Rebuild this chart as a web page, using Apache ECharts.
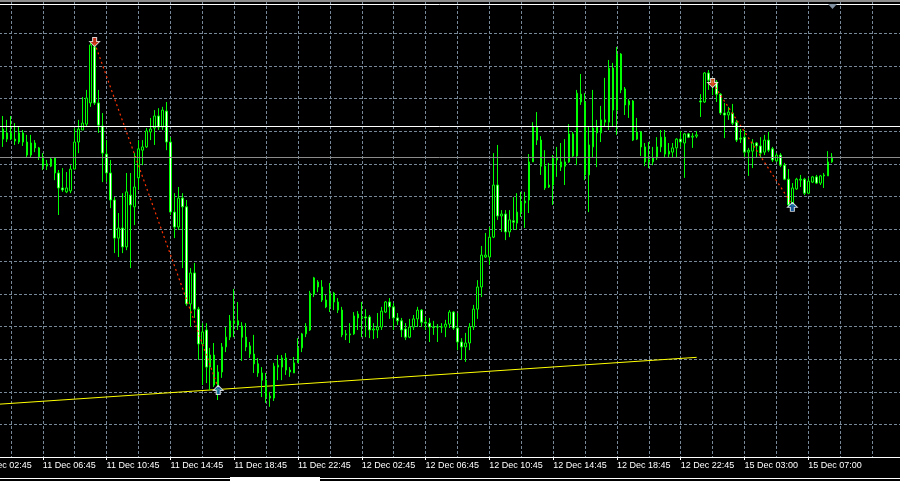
<!DOCTYPE html>
<html><head><meta charset="utf-8">
<script src="https://cdn.jsdelivr.net/npm/echarts@6/dist/echarts.min.js"></script>
<style>html,body{margin:0;padding:0;background:#000;overflow:hidden;width:900px;height:481px}#c{width:924px;height:481px;margin-left:-24px}</style>
</head><body><div id="c"></div>
<script>
// x-axis tick labels, one every 16 fifteen-minute bars
const tickLabels = ["11 Dec 02:45","11 Dec 06:45","11 Dec 10:45","11 Dec 14:45","11 Dec 18:45","11 Dec 22:45",
  "12 Dec 02:45","12 Dec 06:45","12 Dec 10:45","12 Dec 14:45","12 Dec 18:45","12 Dec 22:45",
  "15 Dec 03:00","15 Dec 07:00"];
const barsPerTick = 16;
const firstCandleSlot = 6;   // first visible candle is 6 bars after "11 Dec 02:45"
const slotCount = 232;       // bar slots across the chart window

// M15 candles (price in points, 10 points per grid step)
const opens = [
100.7,99.5,99.5,97.6,96.7,99.5,96.7,92.7,96.4,94.9,
92.1,89.3,89.3,91.8,87.2,82.6,81.4,81.7,88.4,96.7,
100.4,102.2,108.7,125.9,108.7,101.6,93.0,87.2,78.9,67.2,
70.3,64.5,80.4,76.8,85.7,94.2,95.2,99.8,101.0,104.7,
101.3,106.2,96.7,75.2,70.6,79.5,76.8,47.0,56.5,45.4,
34.7,39.0,27.6,31.3,22.1,26.1,33.8,36.8,41.1,41.8,
40.2,36.8,34.1,31.6,28.6,25.8,23.6,18.1,18.1,27.6,
27.6,30.4,26.7,25.8,28.9,33.5,37.8,39.0,50.0,53.7,
52.2,48.2,46.1,50.3,47.6,45.1,37.5,37.8,37.8,43.9,
42.7,43.0,43.0,39.0,39.0,39.9,44.5,47.6,46.1,42.7,
41.8,39.3,36.8,39.9,42.4,45.1,41.4,41.1,39.9,39.9,
39.9,39.9,40.8,44.5,39.6,35.3,33.8,35.0,39.9,45.4,
52.2,61.4,61.4,67.5,83.5,74.0,74.6,69.1,72.5,71.8,
75.2,78.0,78.9,90.6,101.3,97.3,89.3,82.9,83.5,91.2,
89.0,90.6,90.6,99.2,92.4,111.4,109.0,86.6,95.2,101.3,
99.5,102.8,102.8,119.4,106.5,123.7,113.0,108.1,109.3,97.6,
99.8,95.2,90.6,90.6,91.8,95.2,98.2,93.0,93.6,94.9,
97.6,96.4,99.2,98.2,98.5,109.3,109.0,117.9,115.7,115.1,
111.4,105.6,105.0,105.6,102.8,97.9,98.2,93.6,93.9,96.4,
95.5,93.6,97.3,94.6,90.9,92.7,89.6,85.3,77.4,82.3,
85.0,85.3,81.0,84.4,86.0,84.1,86.3,86.3,90.6];
const highs = [
104.7,103.5,104.7,102.5,101.3,100.4,98.9,98.9,97.3,95.2,
93.3,91.2,92.1,92.1,88.1,88.7,87.5,89.6,101.0,103.5,
110.5,112.7,127.1,127.1,112.7,105.6,97.3,91.2,79.8,74.9,
81.0,87.2,87.2,93.3,97.3,97.3,101.0,104.1,106.5,107.1,
107.5,109.0,98.2,81.0,82.9,81.0,78.9,58.0,59.6,46.1,
41.1,41.1,33.5,35.0,28.2,35.0,39.9,43.6,51.6,47.6,
41.4,41.1,35.3,37.5,30.4,27.6,25.8,20.0,28.9,31.3,
31.3,31.9,27.6,30.7,36.5,38.1,41.1,51.0,55.3,54.3,
54.3,49.7,53.4,50.7,48.8,46.1,39.0,41.1,44.5,44.8,
47.6,45.4,43.6,41.1,44.2,46.1,47.9,48.8,47.3,44.2,
42.7,41.1,42.4,43.6,46.1,45.4,43.0,42.7,41.8,40.8,
41.1,42.1,45.1,44.8,44.2,36.5,38.1,41.1,46.7,54.3,
64.8,68.8,70.6,93.3,95.8,75.8,75.8,75.8,79.8,81.0,
81.4,81.4,93.0,102.8,105.9,98.5,94.2,90.3,92.7,95.2,
96.4,97.6,102.2,99.8,112.7,117.6,111.7,101.3,112.7,103.5,
107.8,116.4,121.9,121.0,125.9,124.0,113.6,109.9,109.6,104.1,
100.1,96.4,96.7,95.2,98.2,100.4,100.4,96.4,96.4,97.9,
100.1,99.5,99.5,99.5,100.1,111.4,118.2,118.8,116.4,115.7,
111.7,108.7,107.5,108.4,103.5,100.7,100.4,94.9,97.6,96.7,
98.2,98.9,99.8,95.2,93.3,93.3,90.3,88.4,84.1,85.7,
86.6,85.7,85.7,86.3,86.6,86.6,87.2,93.9,93.3];
const lows = [
95.2,96.7,97.3,95.8,96.1,95.5,92.1,92.1,93.6,91.2,
88.1,88.1,89.0,85.0,74.3,81.4,81.0,81.0,88.4,93.3,
100.4,101.3,107.5,108.1,99.5,84.4,84.4,76.4,62.6,61.4,
62.6,63.5,58.0,71.2,82.0,89.6,94.9,97.3,95.8,100.4,
100.4,94.2,74.3,67.2,69.7,58.0,46.4,39.9,42.7,29.8,
22.1,22.7,20.6,21.5,17.5,24.3,32.2,35.9,36.8,39.0,
29.5,32.5,30.4,25.8,24.6,18.4,16.6,15.4,17.2,23.6,
23.6,25.2,24.6,25.8,28.9,32.2,36.8,38.7,49.1,50.6,
47.6,45.7,44.5,45.1,44.2,36.8,35.9,35.0,37.5,39.0,
36.8,36.8,36.5,36.2,36.5,39.0,44.2,42.4,39.0,40.5,
36.8,35.9,36.5,39.0,39.9,39.9,39.0,35.3,37.5,35.3,
38.1,36.8,39.6,39.0,32.8,29.8,29.2,32.8,39.0,42.4,
49.1,61.1,59.0,67.2,72.8,69.1,66.6,67.5,69.7,69.7,
73.7,70.3,74.9,90.6,95.8,86.6,82.0,82.6,77.4,86.0,
87.8,83.5,90.3,92.1,89.6,108.1,85.0,75.2,92.1,89.0,
96.7,101.3,100.4,101.3,98.9,111.7,105.0,104.1,97.0,97.3,
92.4,89.3,88.7,89.6,91.2,93.6,92.1,92.1,92.1,92.1,
95.2,85.7,97.9,94.9,97.9,104.4,108.7,112.7,111.1,109.0,
105.0,97.9,103.5,101.9,96.7,96.4,92.1,86.3,88.7,92.1,
92.1,92.7,93.6,90.6,90.6,89.0,85.0,76.8,77.1,82.0,
82.9,80.4,80.7,84.1,83.8,83.5,82.6,86.3,90.3];
const closes = [
97.6,97.6,97.6,97.0,99.5,96.7,92.7,96.4,94.9,92.1,
89.3,90.0,91.5,87.2,82.6,82.0,82.6,88.4,96.7,100.7,
102.5,110.2,126.5,108.7,101.9,93.3,87.2,78.9,67.2,70.3,
64.5,81.4,77.4,82.9,94.6,95.2,100.1,100.7,104.7,101.3,
106.5,96.7,75.2,70.6,79.5,76.8,47.0,56.5,45.4,34.7,
38.4,27.6,31.3,22.1,26.1,33.8,36.8,41.8,41.8,40.5,
36.8,33.8,31.6,28.6,25.8,23.6,18.4,18.7,27.9,28.2,
30.4,26.7,26.1,28.9,33.5,37.8,39.9,50.3,55.0,52.2,
48.2,46.1,50.3,47.6,45.1,37.5,37.8,37.5,43.3,42.7,
43.0,42.7,39.0,39.3,39.9,44.8,47.6,46.1,42.7,41.8,
39.0,36.8,39.9,42.4,45.1,41.4,41.1,39.9,39.8,39.9,
39.9,40.8,44.5,39.6,35.3,33.8,35.0,39.9,45.4,52.2,
62.0,62.0,67.5,83.5,74.0,74.6,69.1,72.8,72.1,75.2,
78.3,78.6,90.6,101.3,97.3,89.3,82.6,83.5,91.8,91.8,
90.6,89.3,99.2,92.4,111.7,109.0,86.6,95.8,101.0,99.5,
103.5,103.5,119.4,106.5,123.7,112.7,108.1,109.3,97.3,99.8,
95.2,90.6,91.2,91.8,95.2,98.2,93.0,93.9,94.9,97.6,
96.7,99.2,98.2,98.5,98.9,109.0,117.9,115.7,114.5,111.4,
105.6,105.0,105.9,102.5,97.3,97.6,93.6,94.2,96.4,95.5,
93.3,97.3,94.2,91.2,92.7,89.6,85.3,77.4,82.6,85.3,
85.3,81.0,84.7,86.0,84.1,86.3,86.6,90.6,92.1];

// horizontal price levels
const levelPrices = [139.1, 101.4, 92.0];
const levelColors = ['#ffffff', '#ffffff', '#8c8c8c'];
// trend line anchors [slot, price]
const trendLine = [[0, 15.8], [180, 30.6]];
// zigzag legs [slot, price]
const zigzagLeg1 = [[29, 127.1], [60, 21.2]];
const zigzagLeg2 = [[184, 114.8], [204, 77.4]];
// signal arrows [slot, price]
const sellSignals = [[29, 127.4], [184, 114.8]];
const buySignals = [[60, 20.6], [204, 76.8]];

const categories = [];
for (let s = 0; s < slotCount; s++) categories.push(String(s));
const candleData = categories.map((c, s) => {
  const k = s - firstCandleSlot;
  if (k < 0 || k >= opens.length) return '-';
  return [opens[k], closes[k], lows[k], highs[k]];
});

const OX = 24; // canvas is shifted left by 24px so the first (cut) label can be drawn
const grid = '#778899';
const chart = echarts.init(document.getElementById('c'), null, {renderer: 'canvas'});
chart.setOption({
  animation: false,
  backgroundColor: '#000000',
  grid: {left: 0, right: 0, top: 1, bottom: 24, containLabel: false},
  xAxis: {
    type: 'category', data: categories, boundaryGap: false,
    axisLine: {show: true, lineStyle: {color: '#ffffff', width: 1}},
    axisTick: {show: true, interval: barsPerTick - 1, length: 3, lineStyle: {color: '#ffffff'}},
    axisLabel: {
      show: true, interval: barsPerTick - 1, color: '#ffffff', fontSize: 9,
      fontFamily: 'Liberation Sans, Arial, sans-serif', align: 'left', margin: 4,
      showMinLabel: true, showMaxLabel: false,
      formatter: (v, idx) => (idx % barsPerTick === 0 && tickLabels[idx / barsPerTick]) ? tickLabels[idx / barsPerTick] : ''
    },
    splitLine: {show: true, interval: 7, lineStyle: {color: grid, type: [3, 2], width: 1}}
  },
  yAxis: {
    type: 'value', min: 0, max: 140, interval: 10,
    axisLine: {show: false}, axisTick: {show: false}, axisLabel: {show: false},
    splitLine: {show: true, lineStyle: {color: grid, type: [3, 2], width: 1}}
  },
  series: [
    {
      type: 'line', data: trendLine, symbol: 'none', z: 1, silent: true,
      lineStyle: {color: '#ffff00', width: 1}
    },
    {
      type: 'candlestick', data: candleData, barWidth: 2, z: 3, silent: true,
      itemStyle: {color: '#000000', color0: '#ffffff', borderColor: '#00ff00', borderColor0: '#00ff00', borderWidth: 1},
      markLine: {
        silent: true, symbol: ['none', 'none'], label: {show: false}, animation: false,
        data: levelPrices.map((p, i) => ({yAxis: p, lineStyle: {color: levelColors[i], type: 'solid', width: 1}}))
      }
    },
    {
      type: 'line', data: zigzagLeg1, symbol: 'none', z: 4, silent: true,
      lineStyle: {color: '#ff3300', width: 1.2, type: [2, 3]}
    },
    {
      type: 'line', data: zigzagLeg2, symbol: 'none', z: 4, silent: true,
      lineStyle: {color: '#ff3300', width: 1.2, type: [2, 3]}
    },
    {
      type: 'scatter', data: sellSignals, z: 5, silent: true,
      symbol: 'path://M3,0 L7,0 L7,4 L10,4 L5,9 L0,4 L3,4 Z', symbolSize: [10, 9],
      itemStyle: {color: '#ee3a1c', borderColor: '#ffffff', borderWidth: 1}
    },
    {
      type: 'scatter', data: buySignals, z: 5, silent: true,
      symbol: 'path://M5,0 L10,5 L7,5 L7,9 L3,9 L3,5 L0,5 Z', symbolSize: [10, 9],
      itemStyle: {color: '#1f6fbf', borderColor: '#ffffff', borderWidth: 1}
    }
  ],
  graphic: [
    {type: 'rect', shape: {x: 0, y: 0, width: 924, height: 2}, style: {fill: '#8c8c8c'}, z: 100, silent: true},
    {type: 'polygon', shape: {points: [[OX + 828, 4], [OX + 837, 4], [OX + 832.5, 9]]}, style: {fill: '#8090a0'}, z: 100, silent: true},
    {type: 'rect', shape: {x: 0, y: 478, width: 924, height: 1}, style: {fill: '#ffffff'}, z: 100, silent: true},
    {type: 'rect', shape: {x: OX + 230, y: 477, width: 90, height: 4}, style: {fill: '#ffffff'}, z: 100, silent: true}
  ]
});
</script>
</body></html>
